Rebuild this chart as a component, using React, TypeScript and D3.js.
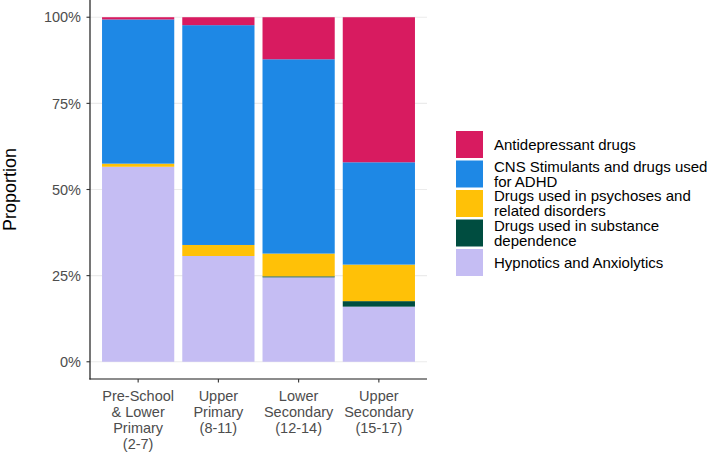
import React from "react";
import * as d3 from "d3";

const categories = ["Pre-School & Lower Primary (2-7)", "Upper Primary (8-11)", "Lower Secondary (12-14)", "Upper Secondary (15-17)"];
const categoryLines = [
  ["Pre-School", "& Lower", "Primary", "(2-7)"],
  ["Upper", "Primary", "(8-11)"],
  ["Lower", "Secondary", "(12-14)"],
  ["Upper", "Secondary", "(15-17)"],
];
const hypnotics = [0.566, 0.307, 0.245, 0.160];
const substance = [0.0, 0.0, 0.003, 0.016];
const psychoses = [0.009, 0.032, 0.066, 0.106];
const cns = [0.4186, 0.638, 0.564, 0.297];
const antidepressant = [0.0064, 0.023, 0.122, 0.421];

const seriesKeys = ["hyp", "sub", "psy", "cns", "anti"];
const seriesColors: Record<string, string> = {
  anti: "#D81B60",
  cns: "#1E88E5",
  psy: "#FFC107",
  sub: "#004D40",
  hyp: "#C5BDF3",
};
const legendKeys = ["anti", "cns", "psy", "sub", "hyp"];
const legendLabels: Record<string, string[]> = {
  anti: ["Antidepressant drugs"],
  cns: ["CNS Stimulants and drugs used", "for ADHD"],
  psy: ["Drugs used in psychoses and", "related disorders"],
  sub: ["Drugs used in substance", "dependence"],
  hyp: ["Hypnotics and Anxiolytics"],
};
const yTicks = [0, 0.25, 0.5, 0.75, 1];

const W = 708;
const H = 452;
const left = 90;
const right = 427;
const top = 0;
const bottom = 379;
const FONT = "'Liberation Sans', Arial, Helvetica, sans-serif";

export default function App() {
  const rows = categories.map((c, i) => ({
    cat: c,
    hyp: hypnotics[i],
    sub: substance[i],
    psy: psychoses[i],
    cns: cns[i],
    anti: antidepressant[i],
  }));
  const stack = d3.stack<any>().keys(seriesKeys).offset(d3.stackOffsetExpand);
  const series = stack(rows);

  const x = d3.scaleBand<string>().domain(categories).range([left, right]).paddingInner(0.1).paddingOuter(0.15);
  const y = d3.scaleLinear().domain([-0.05, 1.05]).range([bottom, top]);

  const legendX = 456;
  const keySize = 27;
  const keyPitch = 29.5;
  const legendTop = 131;

  return (
    <svg width={W} height={H} style={{ position: "absolute", left: 0, top: 0, background: "#fff" }} fontFamily={FONT}>
      <rect x={0} y={0} width={W} height={H} fill="#fff" />
      {yTicks.map((t) => (
        <line key={t} x1={left} x2={right} y1={y(t)} y2={y(t)} stroke="#EBEBEB" strokeWidth={1.1} />
      ))}
      {series.map((s) => (
        <g key={s.key} fill={seriesColors[s.key]}>
          {s.map((d, i) => (
            <rect
              key={i}
              x={x(categories[i])}
              width={x.bandwidth()}
              y={y(d[1])}
              height={Math.max(0, y(d[0]) - y(d[1]))}
            />
          ))}
        </g>
      ))}
      <line x1={left} x2={left} y1={top} y2={bottom + 0.6} stroke="#1a1a1a" strokeWidth={1.2} />
      <line x1={left - 0.6} x2={right} y1={bottom} y2={bottom} stroke="#1a1a1a" strokeWidth={1.2} />
      {yTicks.map((t) => (
        <g key={t}>
          <line x1={left - 3.5} x2={left} y1={y(t)} y2={y(t)} stroke="#333" strokeWidth={1.1} />
          <text x={left - 9} y={y(t)} dy="0.36em" textAnchor="end" fontSize={14.5} fill="#4D4D4D">
            {d3.format(".0%")(t)}
          </text>
        </g>
      ))}
      {categories.map((c, i) => {
        const cx = (x(c) as number) + x.bandwidth() / 2;
        return (
          <g key={c}>
            <line x1={cx} x2={cx} y1={bottom} y2={bottom + 3.5} stroke="#333" strokeWidth={1.1} />
            {categoryLines[i].map((ln, j) => (
              <text key={j} x={cx} y={400.7 + j * 16.1} textAnchor="middle" fontSize={14.5} fill="#4D4D4D">
                {ln}
              </text>
            ))}
          </g>
        );
      })}
      <text transform={`translate(15.5,${(y(0) + y(1)) / 2}) rotate(-90)`} textAnchor="middle" fontSize={18} fill="#000">
        Proportion
      </text>
      {legendKeys.map((k, i) => {
        const ky = legendTop + i * keyPitch;
        const cy = ky + keySize / 2;
        const lines = legendLabels[k];
        return (
          <g key={k}>
            <rect x={legendX} y={ky} width={keySize} height={keySize} fill={seriesColors[k]} />
            {lines.map((ln, j) => (
              <text
                key={j}
                x={494}
                y={lines.length === 1 ? cy + 5 : cy - 2.5 + j * 15.2}
                fontSize={15}
                fill="#000"
              >
                {ln}
              </text>
            ))}
          </g>
        );
      })}
    </svg>
  );
}
